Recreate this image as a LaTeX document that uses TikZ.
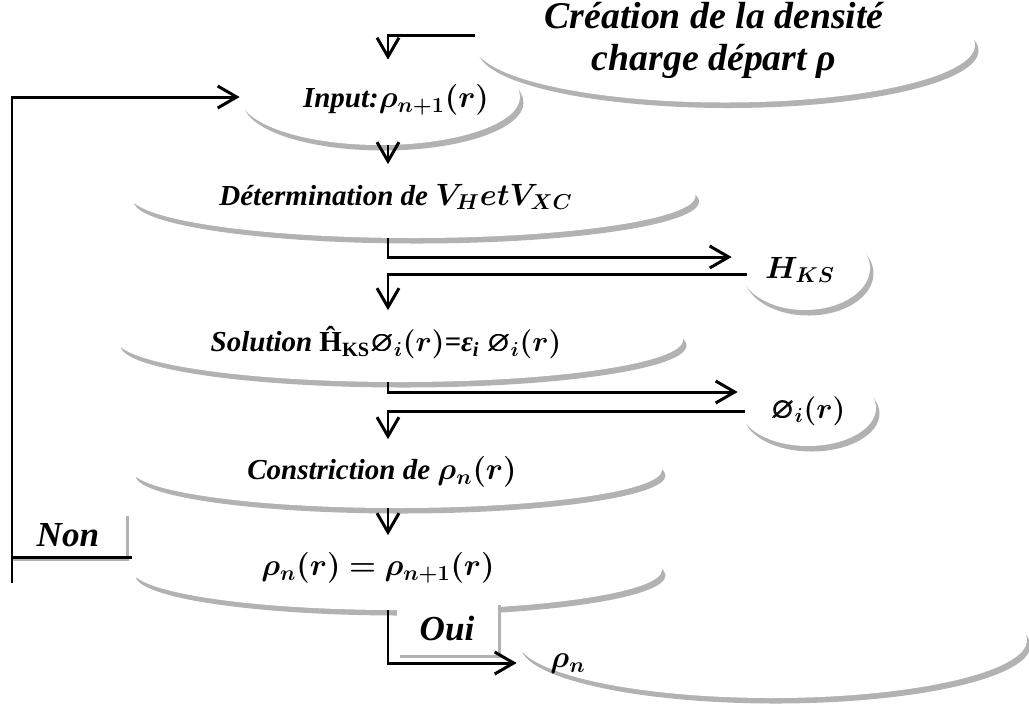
\RequirePackage{fix-cm}
\documentclass[tikz,border=0pt]{standalone}
\usepackage{amsmath}
\usepackage{amssymb}
\usepackage{bm}
\usepackage{fontspec}
\setmainfont{Liberation Serif}
\usetikzlibrary{shapes.geometric, arrows.meta, shadows}
\newcommand{\mth}[1]{{\fontsize{17.5}{24}\selectfont$\bm{#1}$}}
\tikzstyle{blob} = [ellipse, fill=white, inner sep=0pt, drop shadow={shadow xshift=0.7mm, shadow yshift=-1.1mm, fill=black!30, opacity=1}]
\tikzstyle{txt} = [font=\fontsize{16.5}{24}\selectfont\bfseries\itshape, inner sep=0pt, minimum height=13mm, align=center]
\tikzstyle{tag} = [rectangle, fill=white, inner sep=0pt, font=\fontsize{20}{24}\selectfont\bfseries\itshape, drop shadow={shadow xshift=0.6mm, shadow yshift=-0.6mm, fill=black!30, opacity=1}]
\tikzstyle{arrow} = [line width=1.7pt, -{Straight Barb[length=3.8mm, width=4.4mm]}]
\tikzstyle{wire} = [line width=1.7pt]

\begin{document}
\begin{tikzpicture}[x=0.2mm, y=-0.2mm]
          \useasboundingbox (0,0) rectangle (1029,706);
          % ellipses, lowest first
          \node (rhonE) [blob, minimum width=102mm, minimum height=23.2mm] at (772,640) {};
          \node (rhoeqE) [blob, minimum width=106mm, minimum height=16mm] at (397,570) {};
          \node (constrE) [blob, minimum width=106mm, minimum height=15.2mm] at (397,470) {};
          \node (phiE) [blob, minimum width=27.2mm, minimum height=15.2mm] at (808,408) {};
          \node (solutE) [blob, minimum width=113.2mm, minimum height=16.8mm] at (400,340) {};
          \node (hksE) [blob, minimum width=26mm, minimum height=16.8mm] at (805,268) {};
          \node (determE) [blob, minimum width=113mm, minimum height=16.8mm] at (413,196) {};
          \node (inputE) [blob, minimum width=56mm, minimum height=19.2mm] at (380,97) {};
          \node (creaE) [blob, minimum width=100mm, minimum height=23mm] at (725,45) {};
          % texts
          \node (crea) [txt, font=\fontsize{21.5}{23.8}\selectfont\bfseries\itshape] at (714,40) {Création de la densité\\charge départ ρ};
          \node (input) [txt, minimum height=16mm] at (396,100) {Input:\mth{\rho_{n+1}(r)}};
          \node (determ) [txt] at (396,197) {Détermination de \mth{V_H et V_{XC}}};
          \node (hks) [txt] at (800,270) {\mth{H_{KS}}};
          \node (solut) [txt] at (386,343) {Solution {\upshape Ĥ\textsubscript{KS}}$\bm{\varnothing_i(r)}$=ε\textsubscript{i} $\bm{\varnothing_i(r)}$};
          \node (phi) [txt] at (808,411) {$\bm{\varnothing_i(r)}$};
          \node (constr) [txt] at (382,472) {Constriction de \mth{\rho_n(r)}};
          \node (rhoeq) [txt] at (378,568) {\mth{\rho_n(r)=\rho_{n+1}(r)}};
          \node (rhon) [txt] at (568,664) {\mth{\rho_n}};
          \node (non) [tag, minimum width=23.2mm, minimum height=9mm] at (68,535) {Non};
          \node (oui) [tag, minimum width=20.2mm, minimum height=10.6mm] at (447,628) {Oui};
          \coordinate (spine) at (388,0);
          \coordinate (loopend) at (12,583);
          % connectors
          \draw [arrow] ([yshift=2mm]creaE.west) -| (spine |- input.north);
          \draw [arrow] (spine |- inputE.south) -- (spine |- determ.north);
          \draw [arrow] (spine |- determE.south) |- ([xshift=-1.6mm, yshift=2.2mm]hksE.west);
          \draw [arrow] ([xshift=1.4mm, yshift=-1.2mm]hksE.west) -| (spine |- solut.north);
          \draw [arrow] (spine |- solutE.south) |- ([xshift=-0.4mm, yshift=3.2mm]phiE.west);
          \draw [arrow] ([xshift=1mm, yshift=-0.6mm]phiE.west) -| (spine |- constr.north);
          \draw [arrow] (spine |- constrE.south) -- (spine |- rhoeq.north);
          \draw [arrow] (spine |- rhoeqE.south) |- ([yshift=-4.6mm]rhonE.west);
          \draw [wire] ([yshift=2.6mm]rhoeqE.west) -| (loopend);
          \draw [arrow] (loopend) |- (inputE.west);
        \end{tikzpicture}
\end{document}
